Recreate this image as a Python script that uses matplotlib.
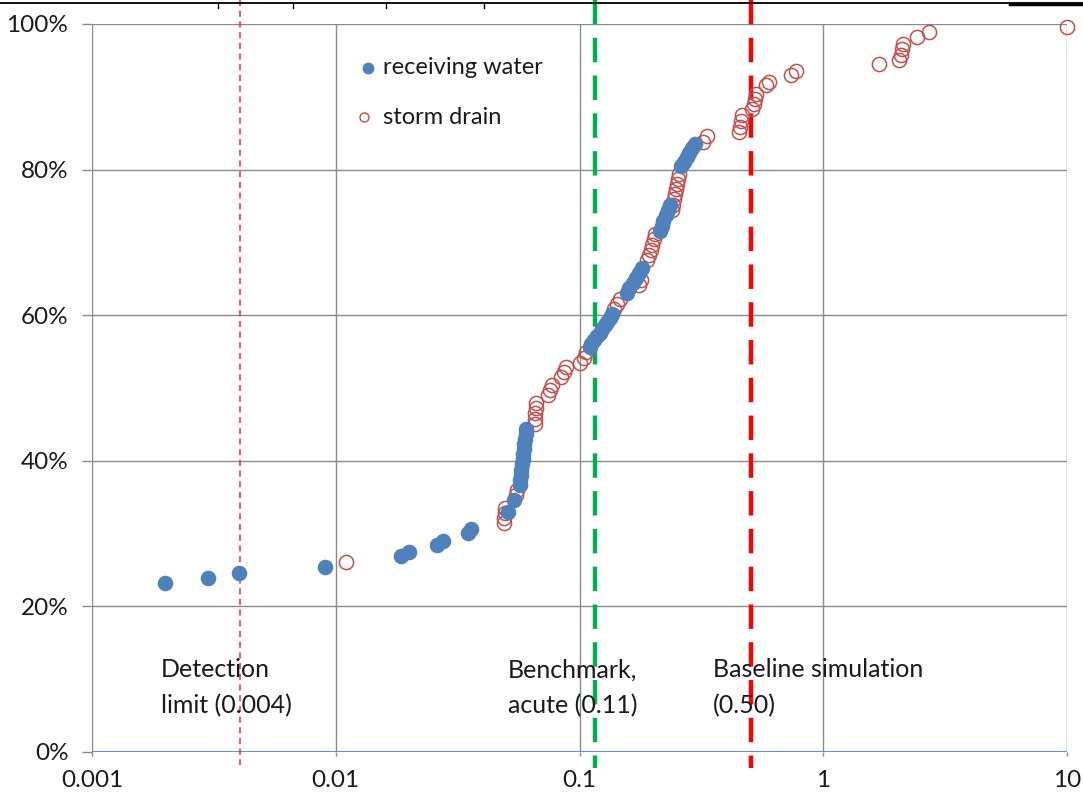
import matplotlib
matplotlib.use("Agg")
import matplotlib.pyplot as plt
from matplotlib.lines import Line2D
import numpy as np

plt.rcParams['font.family'] = ['Lato', 'DejaVu Sans']

# ---- data ----
rw_x = [0.002, 0.003, 0.004, 0.009, 0.0185, 0.020, 0.026, 0.0275, 0.035, 0.036,
        0.051, 0.054,
        0.0570, 0.0572, 0.0575, 0.0578, 0.0581, 0.0584, 0.0587, 0.0590, 0.0594, 0.0598, 0.0602, 0.0606,
        0.110, 0.112, 0.115, 0.118, 0.121, 0.124, 0.127, 0.130, 0.133, 0.136,
        0.156, 0.160, 0.165, 0.170, 0.175, 0.180,
        0.213, 0.217, 0.221, 0.226, 0.231, 0.236,
        0.262, 0.268, 0.275, 0.282, 0.290, 0.298]
rw_y = [23.2, 23.9, 24.6, 25.4, 26.9, 27.5, 28.4, 29.0, 30.1, 30.7,
        33.0, 34.6,
        36.7, 37.4, 38.1, 38.8, 39.5, 40.2, 40.9, 41.6, 42.3, 43.0, 43.7, 44.4,
        55.6, 56.1, 56.6, 57.1, 57.6, 58.1, 58.6, 59.1, 59.6, 60.1,
        63.0, 63.7, 64.4, 65.1, 65.8, 66.5,
        71.6, 72.3, 73.0, 73.7, 74.4, 75.1,
        80.5, 81.1, 81.7, 82.3, 82.9, 83.5]

sd_x = [0.011,
        0.049, 0.049, 0.0495, 0.0495, 0.055, 0.0555,
        0.0655, 0.0657, 0.0659, 0.0661, 0.0663,
        0.074, 0.076, 0.077,
        0.084, 0.086, 0.088,
        0.100, 0.104, 0.106,
        0.138, 0.142, 0.146,
        0.176, 0.178,
        0.190, 0.193, 0.196, 0.199, 0.202, 0.205,
        0.240, 0.242, 0.244, 0.246, 0.249, 0.251, 0.253, 0.256,
        0.320, 0.335,
        0.450, 0.455, 0.460, 0.465,
        0.510, 0.520, 0.525, 0.530,
        0.580, 0.600,
        0.740, 0.770,
        1.69,
        2.05, 2.08, 2.10, 2.12,
        2.43, 2.72, 10.0]
sd_y = [26.1,
        31.4, 32.1, 32.8, 33.5, 35.3, 36.0,
        45.1, 45.8, 46.5, 47.2, 47.9,
        49.0, 49.7, 50.4,
        51.5, 52.2, 52.9,
        53.4, 54.1, 55.0,
        60.8, 61.5, 62.2,
        64.2, 64.9,
        67.6, 68.3, 69.0, 69.7, 70.4, 71.1,
        74.5, 75.2, 75.9, 76.6, 77.3, 78.0, 78.7, 79.4,
        83.8, 84.6,
        85.1, 85.9, 86.7, 87.5,
        88.3, 89.0, 89.7, 90.4,
        91.6, 92.0,
        93.0, 93.5,
        94.5,
        95.1, 95.8, 96.5, 97.2,
        98.2, 98.9, 99.6]

ref_x = [0.00405, 0.116, 0.506]
ref_labels = ["Detection\nlimit (0.004)", "Benchmark,\nacute (0.11)", "Baseline simulation\n(0.50)"]
label_x = [0.00192, 0.0509, 0.353]
x_ticks = [0.001, 0.01, 0.1, 1, 10]
x_ticklabels = ["0.001", "0.01", "0.1", "1", "10"]
y_ticks = [0, 20, 40, 60, 80, 100]
y_ticklabels = ["0%", "20%", "40%", "60%", "80%", "100%"]
legend_labels = ["receiving water", "storm drain"]

# ---- figure ----
fig = plt.figure(figsize=(10.83, 7.99), dpi=100)
ax = fig.add_axes([92/1083, 47/799, 975/1083, 728/799])
ax.set_xscale('log')
ax.set_xlim(0.001, 10)
ax.set_ylim(0, 100)

grid_c = '#8a8a8a'
for xv in x_ticks:
    ax.axvline(xv, color=grid_c, lw=1.0, zorder=1)
for yv in y_ticks[1:]:
    ax.axhline(yv, color=grid_c, lw=1.0, zorder=1)
ax.axhline(0, color='#5b7fc7', lw=1.3, zorder=1)

for s in ax.spines.values():
    s.set_visible(False)

ax.set_xticks(x_ticks)
ax.set_xticklabels(x_ticklabels)
ax.xaxis.set_minor_locator(matplotlib.ticker.NullLocator())
ax.set_yticks(y_ticks)
ax.set_yticklabels(y_ticklabels)
ax.tick_params(axis='both', labelsize=17.5, colors='#8a8a8a', labelcolor='#1a1a1a', width=1)
ax.tick_params(axis='x', length=3, pad=10)
ax.tick_params(axis='y', length=7, pad=10)

# reference lines (extend beyond axes)
ax.plot([ref_x[0]]*2, [103.3, -1.8], color='#ff2040', lw=1.1, ls=(0, (4, 3)), clip_on=False, zorder=2)
ax.plot([ref_x[1]]*2, [103.3, -2.2], color='#00b050', lw=3.2, ls=(0, (5.5, 3)), clip_on=False, zorder=2)
ax.plot([ref_x[2]]*2, [103.3, -2.2], color='#ff0000', lw=3.2, ls=(0, (5.5, 3)), clip_on=False, zorder=2)

# data
ax.plot(sd_x, sd_y, ls='none', marker='o', ms=10.2, mfc='none', mec='#c0504d', mew=1.1,
        zorder=3, clip_on=False)
ax.plot(rw_x, rw_y, ls='none', marker='o', ms=10.2, mfc='#4f81bd', mec='#4f81bd', mew=1.0,
        zorder=4, clip_on=False)

# legend drawn manually
ax.plot([0.283], [0.9396], transform=ax.transAxes, ls='none', marker='o', ms=7.5,
        mfc='#4f81bd', mec='#4f81bd', clip_on=False)
ax.plot([0.279], [0.872], transform=ax.transAxes, ls='none', marker='o', ms=6.5,
        mfc='none', mec='#c0504d', mew=1.0, clip_on=False)
ax.text(0.2985, 0.9396, legend_labels[0], transform=ax.transAxes, fontsize=17,
        va='center', ha='left', color='#1a1a1a')
ax.text(0.2985, 0.872, legend_labels[1], transform=ax.transAxes, fontsize=17,
        va='center', ha='left', color='#1a1a1a')

for lx, lt in zip(label_x, ref_labels):
    ax.text(lx, 12.9, lt, fontsize=18, color='#1a1a1a', va='top', ha='left', linespacing=1.68)

# top border artifact
fig.add_artist(Line2D([0, 1], [1 - 2.5/799]*2, transform=fig.transFigure, color='black', lw=1.3))
for px in [218, 293, 386, 484]:
    fig.add_artist(Line2D([px/1083]*2, [1 - 2.5/799, 1 - 8/799], transform=fig.transFigure,
                          color='black', lw=1.0))
fig.add_artist(Line2D([1010/1083, 1], [1 - 4/799]*2, transform=fig.transFigure, color='black', lw=2.5))

fig.savefig('out.png', dpi=100, facecolor='white')
